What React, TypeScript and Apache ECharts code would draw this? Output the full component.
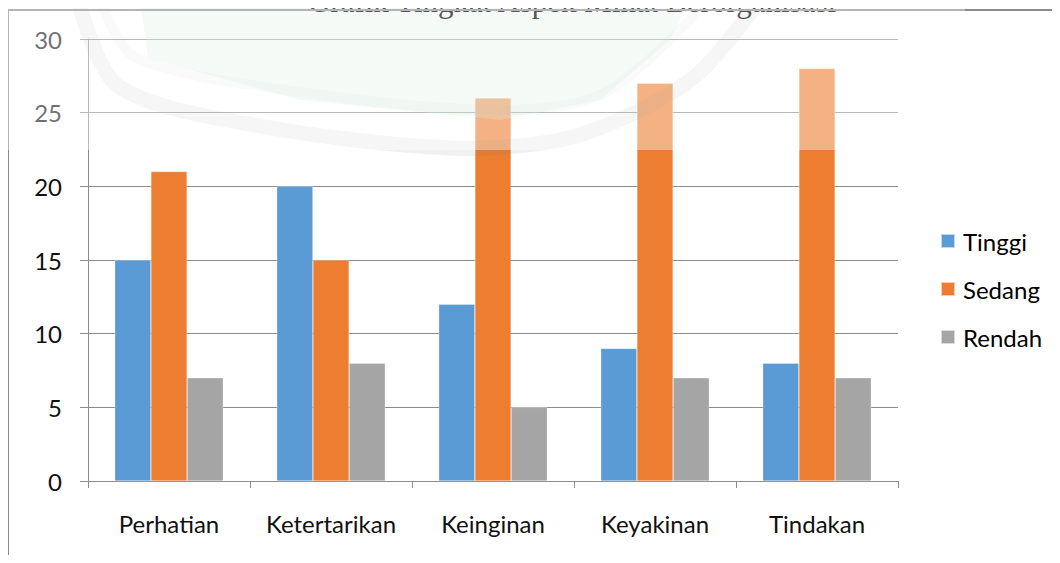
import React, { useEffect, useRef } from "react";
import * as echarts from "echarts";

const categories = ["Perhatian", "Ketertarikan", "Keinginan", "Keyakinan", "Tindakan"];
const tinggi = [15, 20, 12, 9, 8];
const sedang = [21, 15, 26, 27, 28];
const rendah = [7, 8, 5, 7, 7];
const seriesNames = ["Tinggi", "Sedang", "Rendah"];
const titleText = "Grafik Tingkat Aspek Minat Berorganisasi";

const FONT = "Lato";

const borderPieces = [
  { left: 7, top: 9, width: 958, height: 2, background: "#b4b4b4" },
  { left: 965, top: 9, width: 95, height: 2, background: "#8a8a8a" },
  { left: 7, top: 9, width: 2, height: 141, background: "#b4b4b4" },
  { left: 7, top: 150, width: 2, height: 413, background: "#8a8a8a" },
];

export default function App() {
  const ref = useRef<HTMLDivElement>(null);
  useEffect(() => {
    if (!ref.current) return;
    const chart = echarts.init(ref.current, null, { renderer: "svg" });
    const barStyle = (color: string) => ({
      color,
      borderColor: "rgba(255,255,255,0.6)",
      borderWidth: 0.5,
    });
    chart.setOption({
      animation: false,
      backgroundColor: "#ffffff",
      grid: { left: 88, top: 39, width: 810, height: 442, containLabel: false },
      legend: {
        orient: "vertical",
        left: 940,
        top: 229,
        padding: 0,
        itemWidth: 14,
        itemHeight: 14,
        itemGap: 24,
        icon: "rect",
        textStyle: { fontFamily: FONT, fontSize: 24, color: "#000", padding: [0, 0, 0, 3] },
        data: seriesNames,
      },
      xAxis: {
        type: "category",
        data: categories,
        axisLine: { show: true, lineStyle: { color: "#8c8c8c", width: 1 } },
        axisTick: { show: true, interval: 0, length: 7, lineStyle: { color: "#8c8c8c" } },
        axisLabel: { interval: 0, fontFamily: FONT, fontSize: 24, color: "#111", margin: 30 },
      },
      yAxis: {
        type: "value",
        min: 0,
        max: 30,
        interval: 5,
        axisLine: { show: true, lineStyle: { color: "#8c8c8c", width: 1 } },
        axisTick: { show: true, length: 8, lineStyle: { color: "#8c8c8c" } },
        splitLine: { show: true, lineStyle: { color: "#8c8c8c", width: 1 } },
        axisLabel: { fontFamily: FONT, fontSize: 24, color: "#111", margin: 26 },
      },
      series: [
        { name: seriesNames[0], type: "bar", data: tinggi, barGap: "0%", barCategoryGap: "33%", itemStyle: barStyle("#5B9BD5") },
        { name: seriesNames[1], type: "bar", data: sedang, barGap: "0%", barCategoryGap: "33%", itemStyle: barStyle("#ED7D31") },
        { name: seriesNames[2], type: "bar", data: rendah, barGap: "0%", barCategoryGap: "33%", itemStyle: barStyle("#A5A5A5") },
      ],
      graphic: [
        {
          type: "polygon",
          z: 90,
          shape: {
            points: [[140, 0], [148, 58], [300, 100], [500, 120], [600, 100], [670, 40], [690, 0]],
          },
          style: { fill: "rgba(190,232,208,0.28)" },
        },
        {
          type: "polyline",
          z: 91,
          shape: {
            points: [[78, 0], [118, 86], [260, 126], [450, 148], [560, 140], [640, 110], [700, 72], [760, 0]],
            smooth: 0.3,
          },
          style: { stroke: "rgba(120,120,120,0.10)", lineWidth: 15, fill: "none" },
        },
        {
          type: "polyline",
          z: 91,
          shape: {
            points: [[100, 0], [135, 57], [300, 92], [500, 110], [600, 95], [690, 20], [700, 0]],
            smooth: 0.3,
          },
          style: { stroke: "rgba(120,120,120,0.06)", lineWidth: 10, fill: "none" },
        },
        { type: "rect", z: 100, shape: { x: 0, y: 0, width: 965, height: 150 }, style: { fill: "rgba(255,255,255,0.4)" } },
        {
          type: "text",
          z: 110,
          x: 572,
          y: 1,
          style: {
            text: titleText,
            fontFamily: "Liberation Serif",
            fontSize: 31,
            fill: "#555",
            align: "center",
            verticalAlign: "middle",
          },
        },
      ],
    });
    return () => chart.dispose();
  }, []);
  return (
    <div style={{ position: "relative", width: 1060, height: 563, margin: -8, overflow: "hidden" }}>
      <div ref={ref} style={{ position: "absolute", left: 0, top: 0, width: 1060, height: 563 }} />
      {borderPieces.map((p, i) => (
        <div key={i} style={{ position: "absolute", zIndex: 5, ...p }} />
      ))}
    </div>
  );
}
